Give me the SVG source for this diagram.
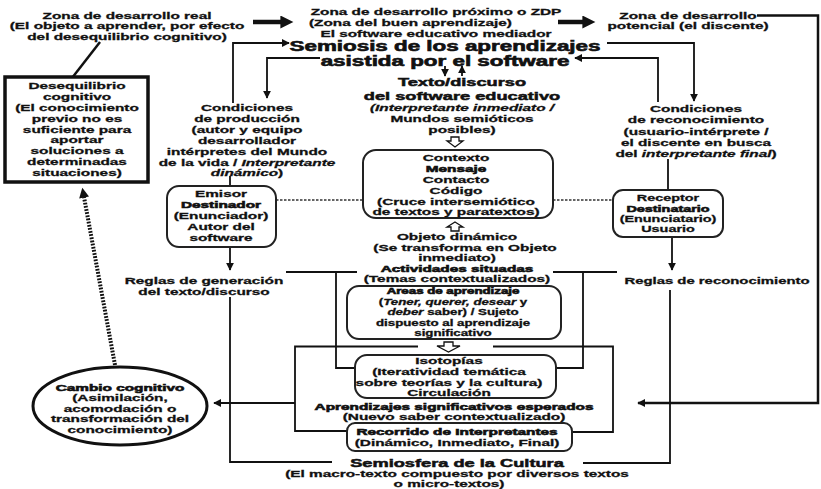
<svg xmlns="http://www.w3.org/2000/svg" width="821" height="489" viewBox="0 0 821 489">
<style>
text{font-family:"Liberation Sans",Arial,Helvetica,sans-serif;font-weight:700;font-size:9.6px;text-anchor:middle;fill:#111;stroke:#111;stroke-width:0.3}
.big{font-size:14px;stroke-width:0.6}
.med{font-size:11.4px;stroke-width:0.5}
.sm{font-size:8.3px}
.h{stroke-width:0.6}
.it{font-style:italic}
.ln{fill:none;stroke:#111;stroke-width:1.8}
.thk{fill:none;stroke:#111;stroke-width:4.5}
.box{fill:#fff;stroke:#222;stroke-width:2}
.dot{fill:none;stroke:#333;stroke-width:1.5;stroke-dasharray:2.5 1.5}
.hol{fill:#fff;stroke:#111;stroke-width:1.3}
</style>
<defs>
<marker id="a" viewBox="0 0 10 10" refX="9" refY="5" markerWidth="8" markerHeight="8" markerUnits="userSpaceOnUse" orient="auto"><path d="M0 0L10 5L0 10z" fill="#111"/></marker>
<marker id="A" viewBox="0 0 10 10" refX="0.5" refY="5" markerWidth="14" markerHeight="13" markerUnits="userSpaceOnUse" orient="auto"><path d="M0 0L10 5L0 10z" fill="#111"/></marker>
<marker id="D" viewBox="0 0 10 10" refX="0.5" refY="5" markerWidth="11" markerHeight="10" markerUnits="userSpaceOnUse" orient="auto"><path d="M0 0L10 5L0 10z" fill="#111"/></marker>
</defs>
<rect width="821" height="489" fill="#fff"/>

<g id="connectors">
<path class="thk" d="M253 22H281" marker-end="url(#A)"/>
<path class="thk" d="M558 22H583" marker-end="url(#A)"/>
<path class="ln" style="stroke-width:2.5" d="M757 15.5H818V403H638" marker-end="url(#a)"/>
<path class="ln" d="M233 103V43H289" marker-end="url(#a)"/>
<path class="ln" d="M320 58H267V98" marker-end="url(#a)"/>
<path class="ln" d="M607 43H694V101" marker-end="url(#a)"/>
<path class="ln" d="M658 102V58H575" marker-end="url(#a)"/>
<path class="ln" d="M445 66V76" marker-end="url(#a)"/>
<path class="ln" d="M462 76V66" marker-end="url(#a)"/>
<path class="ln" style="stroke-width:2.5" d="M100 42L72 78"/>
<path class="ln" d="M230 176V186"/>
<path class="ln" d="M668 159V190"/>
<path class="dot" d="M276 200H363"/>
<path class="dot" d="M553 200H613"/>
<path class="ln" d="M230 247V270" marker-end="url(#a)"/>
<path class="ln" d="M672 237V270" marker-end="url(#a)"/>
<path class="ln" d="M230 297V462H332"/>
<path class="ln" d="M670 290V463H583"/>
<path class="ln" d="M286 272H357M336 272V368H355"/>
<path class="ln" d="M553 272H617M583 272V368H556"/>
<path class="ln" d="M418 346.5H295V431H347"/>
<path class="ln" d="M295 403H214" marker-end="url(#a)"/>
<path class="ln" d="M493 346.5H613V432H572"/>
<path d="M115 365L84 197" fill="none" stroke="#111" stroke-width="4" stroke-dasharray="1.8 1.4" marker-end="url(#D)"/>
<path class="hol" d="M451 137H459V141H463L455 147L447 141H451Z"/>
<path class="hol" d="M455 222L463 227H459V231H451V227H447Z"/>
<path class="hol" d="M444 342H453V346H460L448.5 352L437 346H444Z"/>
</g>

<g id="zona-real"><g transform="translate(127 0) scale(1.6 1)">
<text x="0" y="19">Zona de desarrollo real</text>
<text x="0" y="29.5">(El objeto a aprender, por efecto</text>
<text x="0" y="40">del desequilibrio cognitivo)</text>
</g></g>

<g id="zdp"><g transform="translate(436 0) scale(1.6 1)">
<text x="0" y="15.5">Zona de desarrollo próximo o ZDP</text>
<text x="-16" y="26.5">(Zona del buen aprendizaje)</text>
<text x="0" y="37">El software educativo mediador</text>
</g></g>

<g id="zona-potencial"><g transform="translate(688 0) scale(1.6 1)">
<text x="0" y="19">Zona de desarrollo</text>
<text x="0" y="29.5">potencial (el discente)</text>
</g></g>

<g id="semiosis"><g transform="translate(445 0) scale(1.6 1)">
<text class="big" x="0" y="51">Semiosis de los aprendizajes</text>
<text class="big" x="0" y="66.5">asistida por el software</text>
</g></g>

<g id="texto-discurso"><g transform="translate(462 0) scale(1.6 1)">
<text class="med" x="0" y="86">Texto/discurso</text>
<text class="med" x="0" y="100">del software educativo</text>
<text class="it" x="0" y="111.5">(Interpretante inmediato /</text>
<text x="0" y="122.5">Mundos semióticos</text>
<text x="0" y="133.5">posibles)</text>
</g></g>

<g id="contexto">
<rect class="box" x="363" y="150" width="190" height="68" rx="13"/>
<g transform="translate(456 0) scale(1.6 1)">
<text x="0" y="161">Contexto</text>
<text class="h" x="0" y="172">Mensaje</text>
<text x="0" y="183">Contacto</text>
<text x="0" y="194">Código</text>
<text x="0" y="205">(Cruce intersemiótico</text>
<text x="0" y="215.5">de textos y paratextos)</text>
</g></g>

<g id="objeto"><g transform="translate(457 0) scale(1.6 1)">
<text x="0" y="240">Objeto dinámico</text>
<text x="5" y="251">(Se transforma en Objeto</text>
<text x="0" y="261.5">inmediato)</text>
<text class="h" x="0" y="272">Actividades situadas</text>
<text x="0" y="282.5">(Temas contextualizados)</text>
</g></g>

<g id="areas">
<rect class="box" x="347" y="286" width="214" height="53" rx="12"/>
<g transform="translate(453 0) scale(1.6 1)">
<text class="sm h" x="0" y="294">Areas de aprendizaje</text>
<text class="sm" x="0" y="305.5">(<tspan class="it">Tener, querer, desear</tspan> y</text>
<text class="sm" x="0" y="315.5"><tspan class="it">deber</tspan> saber) / Sujeto</text>
<text class="sm" x="0" y="326">dispuesto al aprendizaje</text>
<text class="sm" x="0" y="336.5">significativo</text>
</g></g>

<g id="isotopias">
<rect class="box" x="355" y="355" width="201" height="43" rx="12"/>
<g transform="translate(449 0) scale(1.6 1)">
<text x="0" y="364">Isotopías</text>
<text x="0" y="375">(Iteratividad temática</text>
<text x="0" y="386">sobre teorías y la cultura)</text>
<text x="0" y="396.5">Circulación</text>
</g></g>

<g id="aprendizajes"><g transform="translate(454 0) scale(1.6 1)">
<text class="h" x="0" y="410">Aprendizajes significativos esperados</text>
<text x="0" y="420.5">(Nuevo saber contextualizado)</text>
</g></g>

<g id="recorrido">
<rect class="box" x="347" y="423" width="225" height="28" rx="8"/>
<g transform="translate(457 0) scale(1.6 1)">
<text class="h" x="0" y="435">Recorrido de Interpretantes</text>
<text x="0" y="446.5">(Dinámico, Inmediato, Final)</text>
</g></g>

<g id="semiosfera"><g transform="translate(457 0) scale(1.6 1)">
<text class="med" x="0" y="467">Semiosfera de la Cultura</text>
<text x="0" y="477.5">(El macro-texto compuesto por diversos textos</text>
<text x="-5" y="487.5">o micro-textos)</text>
</g></g>

<g id="cambio-cognitivo">
<ellipse cx="120" cy="406" rx="87" ry="39" fill="#fff" stroke="#111" stroke-width="3"/>
<g transform="translate(120 0) scale(1.6 1)">
<text class="h" x="0" y="391">Cambio cognitivo</text>
<text x="0" y="401.5">(Asimilación,</text>
<text x="0" y="412">acomodación o</text>
<text x="0" y="422.5">transformación del</text>
<text x="0" y="433">conocimiento)</text>
</g></g>

<g id="desequilibrio">
<rect x="5" y="77" width="143" height="105" fill="#fff" stroke="#111" stroke-width="3.5"/>
<g transform="translate(77 0) scale(1.6 1)">
<text x="0" y="89">Desequilibrio</text>
<text x="0" y="100">cognitivo</text>
<text x="0" y="111">(El conocimiento</text>
<text x="0" y="122">previo no es</text>
<text x="0" y="133">suficiente para</text>
<text x="0" y="143.5">aportar</text>
<text x="0" y="154.5">soluciones a</text>
<text x="0" y="165.5">determinadas</text>
<text x="0" y="176">situaciones)</text>
</g></g>

<g id="condiciones-produccion"><g transform="translate(247 0) scale(1.6 1)">
<text x="0" y="111">Condiciones</text>
<text x="0" y="122">de producción</text>
<text x="0" y="133">(autor y equipo</text>
<text x="0" y="144">desarrollador</text>
<text x="0" y="155">intérpretes del Mundo</text>
<text x="0" y="166">de la vida / <tspan class="it">Interpretante</tspan></text>
<text x="0" y="176.5"><tspan class="it">dinámico</tspan>)</text>
</g></g>

<g id="condiciones-reconocimiento"><g transform="translate(696 0) scale(1.6 1)">
<text x="0" y="112">Condiciones</text>
<text x="0" y="123.5">de reconocimiento</text>
<text x="0" y="135">(usuario-intérprete /</text>
<text x="0" y="146">el discente en busca</text>
<text x="0" y="157">del <tspan class="it">interpretante final</tspan>)</text>
</g></g>

<g id="emisor">
<rect class="box" x="167" y="186" width="109" height="61" rx="12"/>
<g transform="translate(221 0) scale(1.6 1)">
<text x="0" y="197">Emisor</text>
<text class="h" x="0" y="208.5">Destinador</text>
<text x="0" y="219.5">(Enunciador)</text>
<text x="0" y="230.5">Autor del</text>
<text x="0" y="241">software</text>
</g></g>

<g id="receptor">
<rect class="box" x="613" y="190" width="110" height="47" rx="10"/>
<g transform="translate(668 0) scale(1.5 1)">
<text x="0" y="201">Receptor</text>
<text class="h" x="0" y="212">Destinatario</text>
<text x="0" y="222.5">(Enunciatario)</text>
<text x="0" y="232.5">Usuario</text>
</g></g>

<g id="reglas-generacion"><g transform="translate(204 0) scale(1.6 1)">
<text x="0" y="284">Reglas de generación</text>
<text x="0" y="295">del texto/discurso</text>
</g></g>

<g id="reglas-reconocimiento"><g transform="translate(717 0) scale(1.55 1)">
<text x="0" y="284">Reglas de reconocimiento</text>
</g></g>
</svg>
